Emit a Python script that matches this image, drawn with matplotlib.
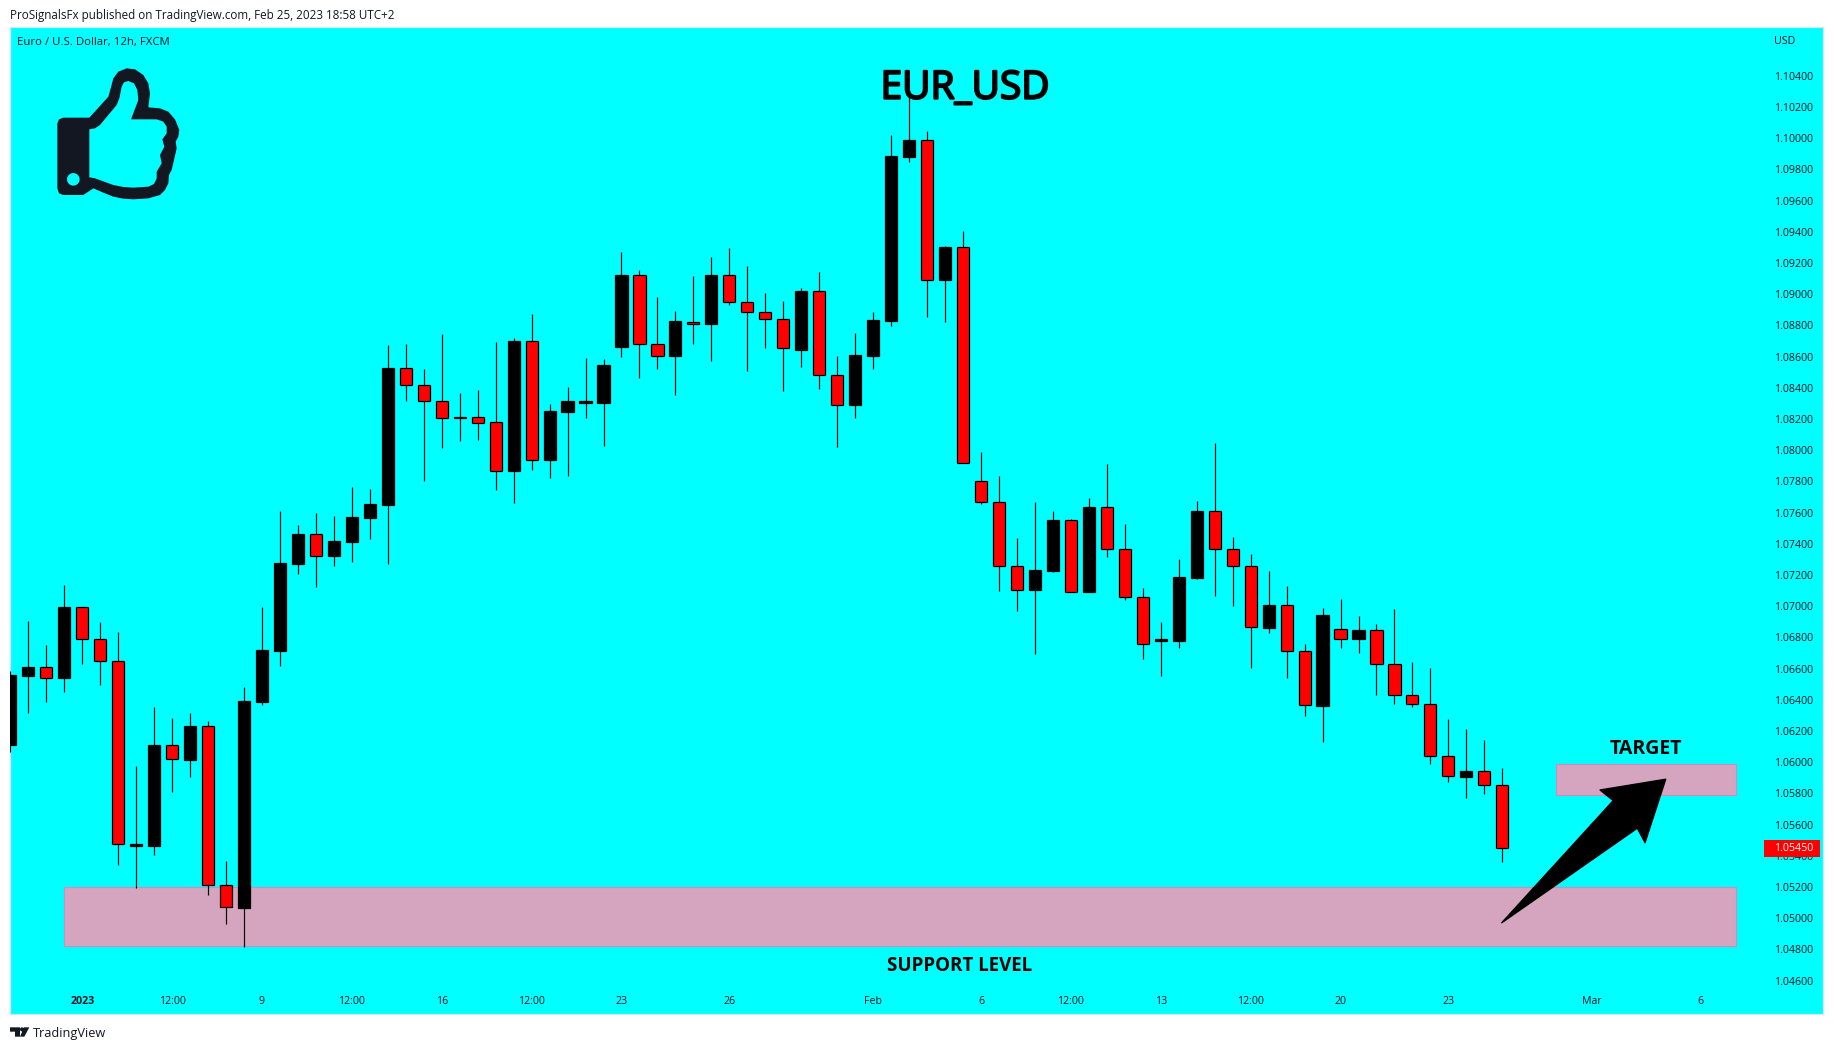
import matplotlib
matplotlib.use("Agg")
import matplotlib.pyplot as plt
import matplotlib.patheffects as pe
from matplotlib.path import Path
from matplotlib.patches import PathPatch, Rectangle, Polygon
from matplotlib.transforms import Affine2D
import numpy as np

opens = [1.06111,1.06553,1.06611,1.06540,1.06995,1.06787,1.06646,1.05463,1.05463,1.06111,
         1.06014,1.06232,1.05210,1.05066,1.06386,1.06713,1.07271,1.07463,1.07322,1.07412,
         1.07566,1.07649,1.08527,1.08418,1.08316,1.08207,1.08213,1.08181,1.07867,1.08700,
         1.07937,1.08245,1.08303,1.08303,1.08662,1.09123,1.08684,1.08604,1.08825,1.08809,
         1.09123,1.08953,1.08883,1.08838,1.08642,1.09021,1.08485,1.08290,1.08604,1.08828,
         1.09880,1.09989,1.09091,1.09303,1.07803,1.07665,1.07255,1.07104,1.07226,1.07553,
         1.07091,1.07636,1.07370,1.07062,1.06777,1.06777,1.07181,1.07610,1.07364,1.07255,
         1.06861,1.07008,1.06716,1.06361,1.06851,1.06790,1.06848,1.06627,1.06434,1.06370,
         1.06037,1.05905,1.05944,1.05851]
closes = [1.06559,1.06611,1.06543,1.06995,1.06787,1.06646,1.05473,1.05476,1.06111,1.06018,
          1.06232,1.05210,1.05069,1.06393,1.06719,1.07277,1.07463,1.07322,1.07418,1.07572,
          1.07655,1.08527,1.08418,1.08316,1.08207,1.08213,1.08175,1.07867,1.08700,1.07937,
          1.08251,1.08316,1.08316,1.08546,1.09123,1.08681,1.08604,1.08828,1.08812,1.09123,
          1.08953,1.08883,1.08838,1.08658,1.09021,1.08485,1.08293,1.08610,1.08835,1.09886,
          1.09989,1.09091,1.09303,1.07921,1.07665,1.07255,1.07107,1.07232,1.07553,1.07094,
          1.07636,1.07370,1.07062,1.06761,1.06790,1.07187,1.07610,1.07364,1.07255,1.06864,
          1.07008,1.06716,1.06364,1.06944,1.06793,1.06848,1.06627,1.06434,1.06370,1.06037,
          1.05909,1.05944,1.05851,1.05450]
highs = [1.06585,1.06905,1.06752,1.07136,1.06995,1.06899,1.06835,1.05976,1.06354,1.06284,
         1.06316,1.06264,1.05367,1.06482,1.06995,1.07610,1.07521,1.07598,1.07578,1.07764,
         1.07752,1.08675,1.08681,1.08521,1.08745,1.08367,1.08386,1.08694,1.08719,1.08873,
         1.08296,1.08405,1.08591,1.08585,1.09271,1.09155,1.08982,1.08892,1.09117,1.09239,
         1.09296,1.09181,1.09008,1.08957,1.09040,1.09142,1.08604,1.08751,1.08886,1.10021,
         1.10264,1.10046,1.09309,1.09405,1.07989,1.07835,1.07437,1.07668,1.07610,1.07559,
         1.07694,1.07912,1.07527,1.07117,1.06899,1.07303,1.07675,1.08046,1.07444,1.07335,
         1.07226,1.07130,1.06758,1.06989,1.07046,1.06937,1.06886,1.06982,1.06643,1.06604,
         1.06277,1.06213,1.06143,1.05963]
lows = [1.06066,1.06316,1.06386,1.06450,1.06630,1.06495,1.05341,1.05194,1.05405,1.05809,
        1.05905,1.05149,1.04963,1.04816,1.06367,1.06617,1.07207,1.07123,1.07258,1.07284,
        1.07431,1.07271,1.08316,1.07803,1.08014,1.08059,1.08066,1.07745,1.07662,1.07873,
        1.07822,1.07835,1.08207,1.08027,1.08598,1.08463,1.08521,1.08354,1.08681,1.08572,
        1.08931,1.08508,1.08655,1.08380,1.08534,1.08393,1.08021,1.08207,1.08521,1.08796,
        1.09848,1.08854,1.08822,1.07918,1.07655,1.07098,1.06969,1.06694,1.07219,1.07094,
        1.07091,1.07316,1.07040,1.06662,1.06553,1.06732,1.07175,1.07066,1.07002,1.06604,
        1.06828,1.06540,1.06296,1.06130,1.06732,1.06700,1.06431,1.06373,1.06354,1.05989,
        1.05873,1.05771,1.05796,1.05361]

x_ticks = [4,9,14,19,24,29,34,40,48,54,59,64,69,74,80,88,94]
x_labels = ['2023','12:00','9','12:00','16','12:00','23','26','Feb','6','12:00','13',
            '12:00','20','23','Mar','6']
y_ticks = [round(1.046 + 0.002*k, 3) for k in range(30)]
last_price = 1.05450
support_zone = (3, 96, 1.0482, 1.0520)
target_zone = (86, 96, 1.0579, 1.0599)
arrow_x = [82.97, 89.17, 88.44, 92.09, 90.94, 90.51]
arrow_y = [1.04971, 1.05754, 1.05822, 1.05891, 1.05484, 1.05577]

CYAN = '#00ffff'
FONT = 'Open Sans'
W, H = 1834, 1050
fig = plt.figure(figsize=(W/100, H/100), dpi=100, facecolor='white')
ax = fig.add_axes([10/W, (H-1014)/H, 1813/W, 987/H], facecolor=CYAN)
ax.set_xlim(-0.017, 100.84)
ax.set_ylim(1.04386, 1.10713)
for s in ax.spines.values():
    s.set_color('#cfe9ee'); s.set_linewidth(0.9)

# zones
for x0, x1, y0, y1 in (support_zone, target_zone):
    ax.add_patch(Rectangle((x0, y0), x1-x0, y1-y0, facecolor='#d5a4be', edgecolor='#d08cc0',
                           linewidth=0.8, zorder=1))

# candles
xs = np.arange(len(opens))
o, c = np.array(opens), np.array(closes)
up = c >= o
ax.vlines(xs, lows, highs, color='black', linewidth=0.85, zorder=3)
ax.bar(xs, np.abs(c-o), bottom=np.minimum(o, c), width=0.675,
       color=['black' if u else '#ff0000' for u in up], edgecolor='black', linewidth=0.9, zorder=4)

# arrow
ax.add_patch(Polygon(np.column_stack([arrow_x, arrow_y]), closed=True, facecolor='black',
                     edgecolor='black', linewidth=1.0, joinstyle='round', zorder=6))

# axes ticks, inside the plot
ax.set_xticks(x_ticks, x_labels)
ax.set_yticks(y_ticks, [f'{v:.5f}' for v in y_ticks])
ax.yaxis.tick_right()
ax.tick_params(axis='both', length=0, labelsize=7.7, labelcolor='#131722')
ax.tick_params(axis='y', pad=-7.4)
ax.tick_params(axis='x', pad=-13.0)
for t in ax.get_yticklabels():
    t.set_ha('right'); t.set_fontfamily(FONT)
for t in ax.get_xticklabels():
    t.set_fontfamily(FONT)
ax.get_xticklabels()[0].set_fontweight('bold')

# last price tag
ax.add_patch(Rectangle((97.56, 1.05393), 3.11, 0.00108, facecolor='#ff0000', edgecolor='none', zorder=7))
ax.text(100.28, last_price-0.00001, f'{last_price:.5f}', color='white', ha='right', va='center',
        fontsize=7.7, family=FONT, zorder=8)

# annotation text
ax.text(53.1, 1.10318, 'EUR_USD', fontsize=28, family=FONT, ha='center', va='center',
        color='black', zorder=9, path_effects=[pe.withStroke(linewidth=1.5, foreground='black')])
ax.text(91.0, 1.06082, 'TARGET', fontsize=14, family=FONT, fontweight='bold', ha='center', va='center',
        color='black', zorder=9)
ax.text(52.8, 1.04692, 'SUPPORT LEVEL', fontsize=13.5, family=FONT, fontweight='bold', ha='center', va='center',
        color='black', zorder=9)

# header / footer text
def ptext(px, py, s, **kw):
    fig.text(px/W, 1-py/H, s, va='center', family=FONT, color=kw.pop('color', '#131722'), **kw)
ptext(10, 15, 'ProSignalsFx published on TradingView.com, Feb 25, 2023 18:58 UTC+2', fontsize=8.35)
ptext(17, 42, 'Euro / U.S. Dollar, 12h, FXCM', fontsize=8.2)
ptext(1795, 41, 'USD', fontsize=7.7, ha='right')
ptext(33, 1033, 'TradingView', fontsize=9.2)

# pixel-space icon helper: coordinates are in 3x zoom units of the reference
def zoom_tf(ox, oy):
    return Affine2D().scale(1/3, -1/3).translate(ox, H-oy)

def poly(points):
    v = list(points) + [points[0]]
    return Path(v, [Path.MOVETO] + [Path.LINETO]*(len(points)-1) + [Path.CLOSEPOLY])

outer = [(190,353),(268,353),(325,290),(333,262),(340,235),(355,215),(380,205),(405,208),(430,225),(445,250),(450,280),
         (445,322),(480,325),(505,335),(525,358),(538,390),(535,410),(527,425),(530,445),(522,480),(515,510),(507,525),
         (505,550),(495,570),(480,585),(445,595),(400,598),(370,596),(340,590),(310,578),(280,565),(265,575),(250,585),
         (190,585),(177,580),(172,565),(172,370),(177,358)]
inner = [(268,388),(285,385),(300,375),(350,315),(358,295),(365,260),(372,247),(385,243),(402,250),(412,270),(415,300),
         (393,358),(470,358),(490,365),(500,380),(500,400),(487,418),(493,440),(480,465),(485,490),(470,515),(470,535),
         (462,552),(445,560),(400,563),(370,561),(340,555),(285,535),(268,532)]
# holes are wound the opposite way to the outline so they stay open
hole_pts = [(220+19*np.cos(a), 538+19*np.sin(a)) for a in np.linspace(0, 2*np.pi, 24, endpoint=False)]
thumb = Path.make_compound_path(poly(outer), poly(inner[::-1]), poly(hole_pts[::-1]))
fig.add_artist(PathPatch(thumb, facecolor='#131722', edgecolor='none',
                         transform=zoom_tf(0, 0), zorder=10))

logo = Path.make_compound_path(
    poly([(30,1432),(60,1432),(60,1460),(45,1460),(45,1445),(30,1445)]),
    Path.circle((66,1438), 6),
    poly([(72,1432),(88,1432),(73,1460),(60,1460)]))
fig.add_artist(PathPatch(logo, facecolor='#131722', edgecolor='none', transform=zoom_tf(0, 550), zorder=10))

fig.savefig('out.png', dpi=100, facecolor='white')
